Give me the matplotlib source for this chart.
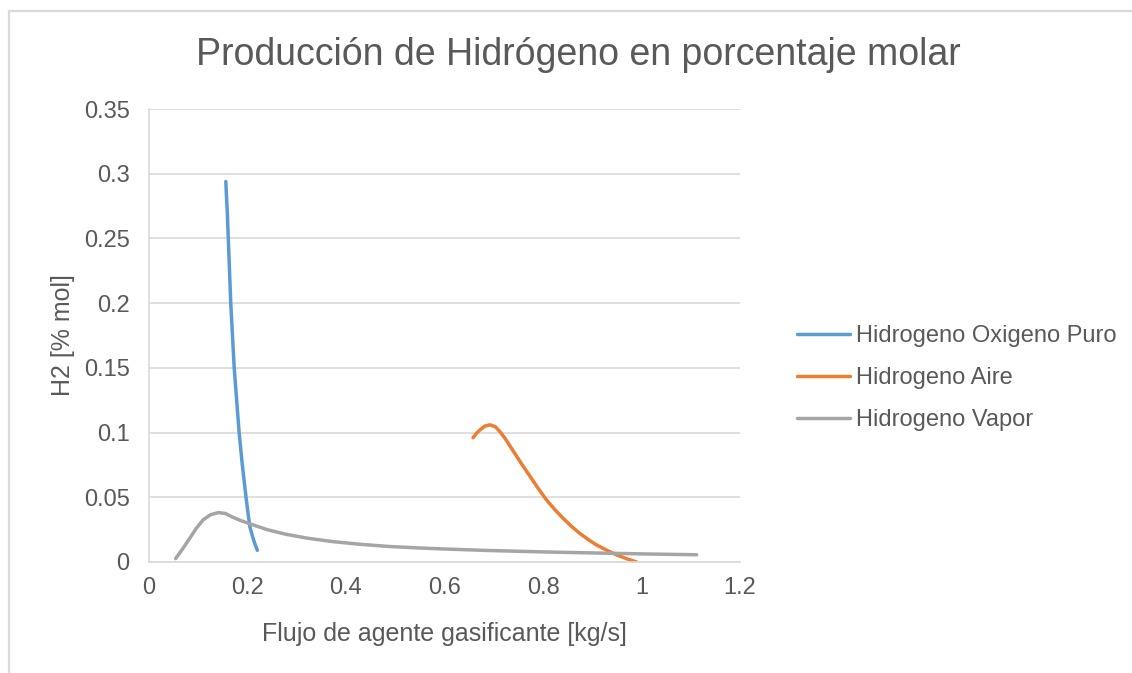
import numpy as np
import matplotlib.pyplot as plt
from matplotlib.lines import Line2D

plt.rcParams['font.family'] = ['Liberation Sans', 'DejaVu Sans']

# flujo de agente [kg/s] vs H2 [fraccion molar]
x_oxigeno = [0.156, 0.157, 0.159, 0.161, 0.1635, 0.166, 0.1695, 0.173, 0.178, 0.183,
             0.1895, 0.197, 0.201, 0.205, 0.210, 0.215, 0.220]
y_oxigeno = [0.294, 0.285, 0.27, 0.25, 0.225, 0.20, 0.175, 0.15, 0.125, 0.10,
             0.075, 0.05, 0.038, 0.027, 0.02, 0.014, 0.009]

x_aire = [0.658, 0.665, 0.672, 0.682, 0.692, 0.703, 0.713, 0.723, 0.740, 0.757, 0.774,
          0.790, 0.807, 0.824, 0.841, 0.858, 0.875, 0.892, 0.909, 0.930, 0.950, 0.970, 0.990]
y_aire = [0.096, 0.0995, 0.102, 0.105, 0.106, 0.1046, 0.1005, 0.0955, 0.0855, 0.0755, 0.066,
          0.057, 0.048, 0.0405, 0.0337, 0.0275, 0.022, 0.0173, 0.0131, 0.009, 0.0054, 0.0025, 0.0]

x_vapor = [0.054, 0.068, 0.083, 0.096, 0.110, 0.125, 0.141, 0.155, 0.168, 0.185, 0.207,
           0.240, 0.277, 0.320, 0.370, 0.425, 0.487, 0.545, 0.603, 0.680, 0.759, 0.836,
           0.914, 1.010, 1.112]
y_vapor = [0.0026, 0.010, 0.0185, 0.026, 0.0326, 0.0365, 0.0382, 0.0375, 0.035, 0.0322, 0.0292,
           0.025, 0.0215, 0.0185, 0.0159, 0.0138, 0.012, 0.0109, 0.010, 0.009, 0.0082, 0.0075,
           0.0069, 0.0062, 0.0056]

series = [
    (x_oxigeno, y_oxigeno, 'Hidrogeno Oxigeno Puro', '#5B9BD5'),
    (x_aire, y_aire, 'Hidrogeno Aire', '#ED7D31'),
    (x_vapor, y_vapor, 'Hidrogeno Vapor', '#A5A5A5'),
]

gris_texto = '#595959'
gris_linea = '#D9D9D9'

W, H = 1132, 673
fig = plt.figure(figsize=(W / 100, H / 100), dpi=100)
ax = fig.add_axes([149 / W, 1 - 562 / H, (740 - 149) / W, (562 - 109) / H])

for xs, ys, nombre, color in series:
    ax.plot(xs, ys, color=color, lw=2.5, label=nombre,
            solid_capstyle='round', solid_joinstyle='round')

ax.set_xlim(0, 1.2)
ax.set_ylim(0, 0.35)
ax.set_xticks(np.arange(0, 1.21, 0.2))
ax.set_xticklabels(['0', '0.2', '0.4', '0.6', '0.8', '1', '1.2'])
ax.set_yticks(np.arange(0, 0.351, 0.05))
ax.set_yticklabels(['0', '0.05', '0.1', '0.15', '0.2', '0.25', '0.3', '0.35'])
ax.tick_params(axis='both', length=0, labelsize=17, colors=gris_texto)
ax.tick_params(axis='y', pad=14)
ax.tick_params(axis='x', pad=11)
ax.grid(axis='y', color=gris_linea, lw=1.2)
ax.set_axisbelow(True)
for lado in ['top', 'right']:
    ax.spines[lado].set_visible(False)
for lado in ['left', 'bottom']:
    ax.spines[lado].set_color(gris_linea)
    ax.spines[lado].set_linewidth(1.2)

ax.set_xlabel('Flujo de agente gasificante [kg/s]', fontsize=18, color=gris_texto, labelpad=16)
ax.set_ylabel('H2 [% mol]', fontsize=18, color=gris_texto, labelpad=6)

fig.text(578 / W, 1 - 55 / H, 'Producción de Hidrógeno en porcentaje molar',
         ha='center', va='center', fontsize=27, color=gris_texto)

ax.legend(loc='center left', bbox_to_anchor=(797 / W, 1 - 378 / H),
          bbox_transform=fig.transFigure, frameon=False, fontsize=17,
          labelcolor=gris_texto, handlelength=2.25, handletextpad=0.25,
          labelspacing=0.85, borderpad=0, borderaxespad=0)

# marco exterior del grafico
fig.add_artist(Line2D([9 / W, 9 / W], [0, 1 - 11 / H], color=gris_linea, lw=1.6, transform=fig.transFigure))
fig.add_artist(Line2D([9 / W, 1], [1 - 11 / H, 1 - 11 / H], color=gris_linea, lw=1.6, transform=fig.transFigure))

fig.savefig('out.png', dpi=100)
